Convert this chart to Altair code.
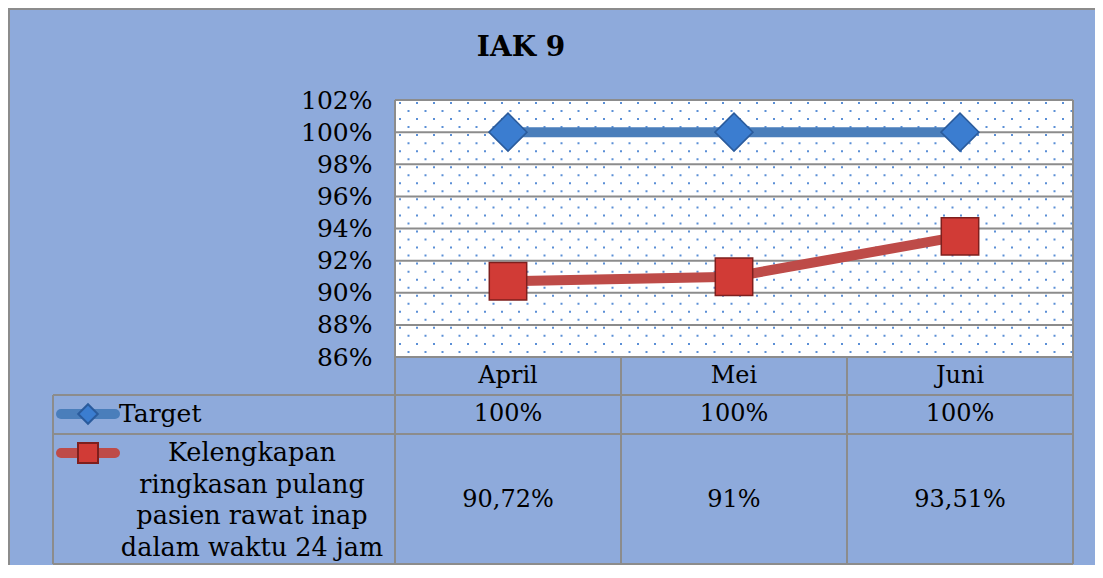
import altair as alt
import pandas as pd

# ---- data ----
months = ["April", "Mei", "Juni"]
target = [100, 100, 100]
kelengkapan = [90.72, 91, 93.51]
target_labels = ["100%", "100%", "100%"]
kel_labels = ["90,72%", "91%", "93,51%"]
y_ticks = [86, 88, 90, 92, 94, 96, 98, 100, 102]
series_names = ["Target", "Kelengkapan\nringkasan pulang\npasien rawat inap\ndalam waktu 24 jam"]
title_text = "IAK 9"

FONT = "DejaVu Serif"
BG = "#8eaadb"
GRID = "#8c8c8c"
BLUE_LINE = "#4a7ebb"
RED_LINE = "#be4b48"

W, H = 678, 465
PH = 257  # plot-area height
BOT = 464

df_t = pd.DataFrame({"month": months, "value": target, "label": target_labels})
df_k = pd.DataFrame({"month": months, "value": kelengkapan, "label": kel_labels})
df_m = pd.DataFrame({"month": months})
df_grid = pd.DataFrame({"value": y_ticks})
one = pd.DataFrame({"a": [0]})

xs = alt.X("month:N", sort=months,
           scale=alt.Scale(type="point", domain=months, padding=0.5), axis=None)
ys = alt.Y("value:Q",
           scale=alt.Scale(domain=[86, 102], range=[PH, 0]),
           axis=alt.Axis(values=y_ticks, labelExpr="datum.value + '%'", grid=False,
                         domain=False, ticks=False, labelPadding=23, labelFont=FONT,
                         labelFontSize=25, labelColor="black", title=None))

layers = []

# white plot background
layers.append(alt.Chart(one).mark_rect(fill="white").encode(
    x=alt.value(0), x2=alt.value(W), y=alt.value(0), y2=alt.value(PH)))

# dotted pattern (decoration)
dot_rows = pd.DataFrame({"py": [3 + i * 8.03 for i in range(32)],
                         "odd": [i % 2 for i in range(32)]})
for parity, off in [(0, 0), (1, 8.5)]:
    layers.append(alt.Chart(dot_rows).transform_filter(f"datum.odd == {parity}").mark_rule(
        color="#5b8fd6", strokeWidth=2, strokeDash=[2, 15], strokeDashOffset=off - 4
    ).encode(x=alt.value(0), x2=alt.value(W), y=alt.Y("py:Q", scale=None, axis=None)))

# gridlines
layers.append(alt.Chart(df_grid).mark_rule(color=GRID, strokeWidth=2).encode(
    y=ys, x=alt.value(0), x2=alt.value(W)))


def rule(x1, x2, y1, y2):
    return alt.Chart(one).mark_rule(color=GRID, strokeWidth=2).encode(
        x=alt.value(x1), x2=alt.value(x2), y=alt.value(y1), y2=alt.value(y2))


# table & frame lines
layers += [
    rule(0, W, PH, PH),
    rule(-342, W, 295, 295),
    rule(-342, W, 334, 334),
    rule(-342, W, BOT, BOT),
    rule(-342, -342, 295, BOT),
    rule(0, 0, 0, BOT),
    rule(226, 226, PH, BOT),
    rule(452, 452, PH, BOT),
    rule(W, W, 0, BOT),
    rule(-387, 720, -91, -91),
    rule(-386, -386, -92, H),
]

# series lines and markers
layers.append(alt.Chart(df_t).mark_line(color=BLUE_LINE, strokeWidth=10).encode(x=xs, y=ys))
layers.append(alt.Chart(df_k).mark_line(color=RED_LINE, strokeWidth=10).encode(x=xs, y=ys))
layers.append(alt.Chart(df_t).mark_point(shape="diamond", filled=True, size=1444, opacity=1,
                                         fill="#3b7dd0", stroke="#2a5b9c", strokeWidth=1.5
                                         ).encode(x=xs, y=ys))
layers.append(alt.Chart(df_k).mark_point(shape="square", filled=True, size=1400, opacity=1,
                                         fill="#d13b36", stroke="#7e1f1d", strokeWidth=1.5
                                         ).encode(x=xs, y=ys))

# category row
layers.append(alt.Chart(df_m).mark_text(font=FONT, fontSize=24, color="black",
                                        baseline="middle").encode(
    x=xs, y=alt.value(276), text="month:N"))
# value rows
layers.append(alt.Chart(df_t).mark_text(font=FONT, fontSize=24, color="black",
                                        baseline="middle").encode(
    x=xs, y=alt.value(314), text="label:N"))
layers.append(alt.Chart(df_k).mark_text(font=FONT, fontSize=24, color="black",
                                        baseline="middle").encode(
    x=xs, y=alt.value(400), text="label:N"))

# legend keys in table
layers.append(alt.Chart(one).mark_rule(color=BLUE_LINE, strokeWidth=10, strokeCap="round").encode(
    x=alt.value(-334), x2=alt.value(-280), y=alt.value(314)))
layers.append(alt.Chart(one).mark_point(shape="diamond", filled=True, size=380, opacity=1,
                                        fill="#3b7dd0", stroke="#2a5b9c").encode(
    x=alt.value(-307), y=alt.value(314)))
layers.append(alt.Chart(one).mark_rule(color=RED_LINE, strokeWidth=10, strokeCap="round").encode(
    x=alt.value(-334), x2=alt.value(-280), y=alt.value(353)))
layers.append(alt.Chart(one).mark_point(shape="square", filled=True, size=400, opacity=1,
                                        fill="#d13b36", stroke="#7e1f1d").encode(
    x=alt.value(-307), y=alt.value(353)))

# row header texts
df_names = pd.DataFrame({"name": series_names})
layers.append(alt.Chart(df_names.iloc[[0]]).mark_text(
    font=FONT, fontSize=25, color="black", align="left", baseline="middle").encode(
    x=alt.value(-276), y=alt.value(314), text="name:N"))
layers.append(alt.Chart(df_names.iloc[[1]]).mark_text(
    font=FONT, fontSize=25.5, color="black", align="center", baseline="middle",
    lineBreak="\n", lineHeight=31.5).encode(
    x=alt.value(-143), y=alt.value(353), text="name:N"))

# title
layers.append(alt.Chart(pd.DataFrame({"t": [title_text]})).mark_text(
    font=FONT, fontSize=28, fontWeight="bold", color="black", baseline="middle").encode(
    x=alt.value(126), y=alt.value(-52), text="t:N"))

chart = alt.layer(*layers).properties(
    width=W, height=H,
    padding={"left": 387, "top": 92, "right": 22, "bottom": 0},
    autosize=alt.AutoSizeParams(type="none"),
    background=BG,
).configure_view(stroke=None)

chart.save("out.html", embed_options={"renderer": "svg", "actions": False})
